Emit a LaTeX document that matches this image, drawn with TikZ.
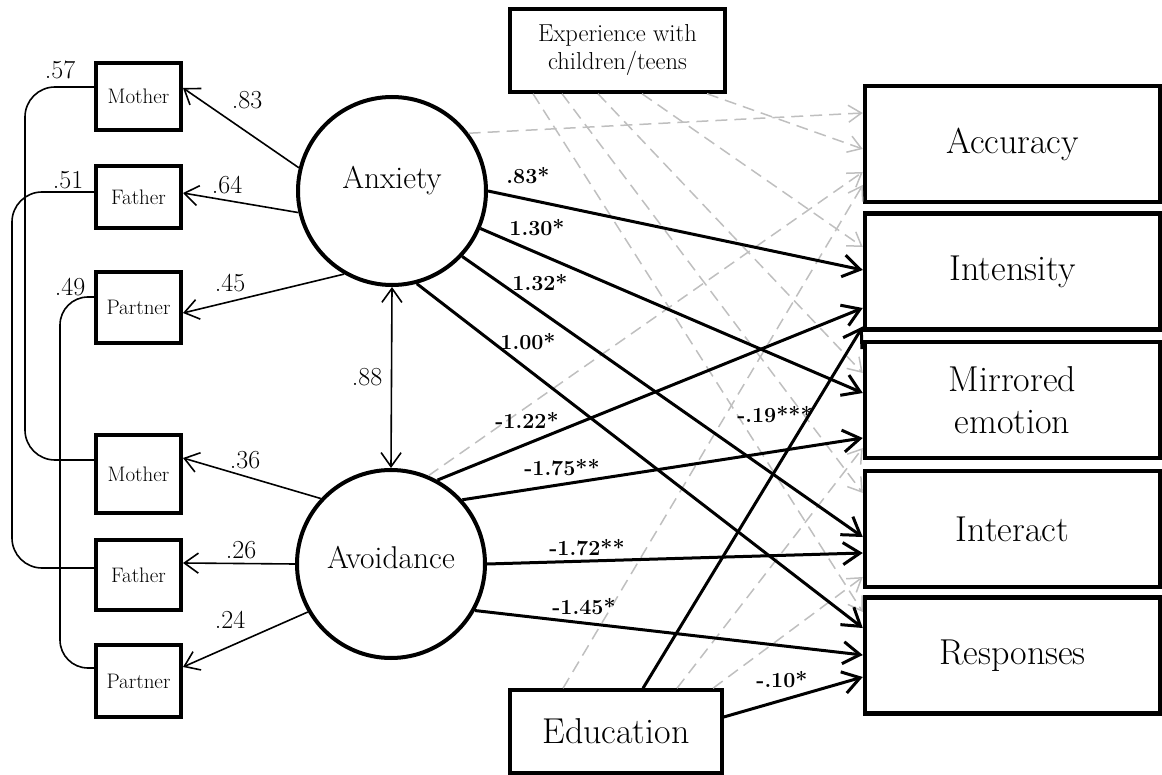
\documentclass[tikz,border=0pt]{standalone}
\usepackage{fontspec}
\usetikzlibrary{arrows.meta,calc}
\tikzset{
  obs/.style={draw, line width=4pt, minimum width=85pt, inner sep=0pt, font=\fontsize{21}{25}\selectfont},
  lat/.style={draw, circle, line width=4pt, minimum size=188pt, inner sep=0pt, font=\fontsize{31.5}{36}\selectfont},
  outc/.style={draw, line width=4.5pt, minimum width=295pt, minimum height=116pt, inner sep=0pt, align=center, font=\fontsize{36}{42}\selectfont},
  cova/.style={draw, line width=3.5pt, inner sep=0pt, align=center},
  loadarr/.style={line width=1.6pt, -{Straight Barb[length=14pt,width=20pt]}},
  dblarr/.style={line width=1.6pt, {Straight Barb[length=14pt,width=20pt]}-{Straight Barb[length=14pt,width=20pt]}},
  covline/.style={line width=1.6pt},
  sigarr/.style={line width=3pt, -{Straight Barb[length=17pt,width=22pt]}},
  nsarr/.style={line width=1.5pt, draw=black!25, dash pattern=on 12pt off 7pt, -{Straight Barb[length=13pt,width=17pt]}},
  coef/.style={font=\fontsize{26}{30}\selectfont, inner sep=0pt},
  bcoef/.style={font=\bfseries\fontsize{21.5}{25}\selectfont, inner sep=0pt},
}
\begin{document}
\begin{tikzpicture}[x=1pt,y=-1pt]
\useasboundingbox (0,0) rectangle (1162,775);

% observed indicators
\node[obs, minimum height=67pt] (mo1) at (138.5,96.5) {Mother};
\node[obs, minimum height=62pt] (fa1) at (138.5,197) {Father};
\node[obs, minimum height=71pt] (pa1) at (138.5,307.5) {Partner};
\node[obs, minimum height=78pt] (mo2) at (138.5,474) {Mother};
\node[obs, minimum height=70pt] (fa2) at (138.5,575) {Father};
\node[obs, minimum height=72pt] (pa2) at (138.5,681) {Partner};

% latent variables
\node[lat, text depth=28pt] (anx) at (392,191) {Anxiety};
\node[lat, text depth=14pt] (avo) at (391,564) {Avoidance};

% covariates
\node[cova, minimum width=215pt, minimum height=83pt, font=\fontsize{24.5}{28}\selectfont] (exp) at (617.5,50.5) {Experience with\\children/teens};
\node[cova, minimum width=212pt, minimum height=83pt, font=\fontsize{36}{40}\selectfont] (edu) at (616,731.5) {Education};

% outcomes
\node[outc] (acc) at (1012.5,144) {Accuracy};
\node[outc] (int) at (1012.5,271.5) {Intensity};
\node[outc] (mir) at (1012.5,400) {Mirrored\\emotion};
\node[outc] (inte) at (1012.5,529) {Interact};
\node[outc] (resp) at (1012.5,655.5) {Responses};

% non-significant paths (dashed, grey)
\draw[nsarr] (anx.37) -- ([yshift=31pt]acc.west);
\draw[nsarr] (avo.67) -- ([yshift=-28pt]acc.west);
\draw[nsarr] ([xshift=89.5pt]exp.south) -- ([yshift=-5pt]acc.west);
\draw[nsarr] ([xshift=24.5pt]exp.south) -- ([yshift=24.5pt]int.west);
\draw[nsarr] ([xshift=-19.5pt]exp.south) -- ([yshift=27pt]mir.west);
\draw[nsarr] ([xshift=-55.5pt]exp.south) -- ([yshift=36pt]inte.west);
\draw[nsarr] ([xshift=-84.5pt]exp.south) -- ([yshift=43.5pt]resp.west);
\draw[nsarr] ([xshift=-53pt]edu.north) -- ([yshift=-41pt]acc.west);
\draw[nsarr] ([xshift=61pt]edu.north) -- ([yshift=-48pt]mir.west);
\draw[nsarr] ([xshift=97pt]edu.north) -- ([yshift=-48pt]inte.west);

% significant paths
\draw[sigarr] (anx.0) -- ([yshift=1.5pt]int.west);
\draw[sigarr] (anx.-23) -- ([yshift=7pt]mir.west);
\draw[sigarr] (anx.-43) -- ([yshift=-8pt]inte.west);
\draw[sigarr] (anx.-75) -- ([yshift=27.5pt]resp.west);
\draw[sigarr] (avo.61) -- ([yshift=-36.5pt]int.west);
\draw[sigarr] (avo.42) -- ([yshift=-38pt]mir.west);
\draw[sigarr] (avo.0) -- ([yshift=-24pt]inte.west);
\draw[sigarr] (avo.-29) -- ([yshift=0.5pt]resp.west);
\draw[sigarr] ([xshift=27pt]edu.north) -- ([yshift=-55pt]int.west);
\draw[sigarr] ([yshift=14.5pt]edu.east) -- ([yshift=-21.5pt]resp.west);

% loadings
\draw[loadarr] (anx.166) -- ([yshift=8.5pt]mo1.east);
\draw[loadarr] (anx.193) -- ([yshift=4pt]fa1.east);
\draw[loadarr] (anx.240) -- ([yshift=-5.5pt]pa1.east);
\draw[loadarr] (avo.137) -- ([yshift=16pt]mo2.east);
\draw[loadarr] (avo.180) -- ([yshift=12pt]fa2.east);
\draw[loadarr] (avo.210) -- ([yshift=14pt]pa2.east);
\draw[dblarr] (anx.south) -- (avo.north);

% residual covariances
\draw[covline, rounded corners=30pt] ([yshift=9.5pt]mo1.west) -- ++(-69,0) |- ([yshift=14pt]mo2.west);
\draw[covline, rounded corners=30pt] ([yshift=5pt]fa1.west) -- ++(-82,0) |- ([yshift=7pt]fa2.west);
\draw[covline, rounded corners=28pt] ([yshift=10.5pt]pa1.west) -- ++(-34,0) |- ([yshift=13pt]pa2.west);

% coefficients
\node[coef] (c57) at (60,70) {.57};
\node[coef] (c51) at (68,180) {.51};
\node[coef] (c49) at (70,287) {.49};
\node[coef] (c83) at (247,100) {.83};
\node[coef] (c64) at (227,185) {.64};
\node[coef] (c45) at (230,283) {.45};
\node[coef] (c88) at (367,377) {.88};
\node[coef] (c36) at (245,460) {.36};
\node[coef] (c26) at (241,550) {.26};
\node[coef] (c24) at (230,620) {.24};

\node[bcoef] (b1) at (528,176) {.83*};
\node[bcoef] (b2) at (537,228) {1.30*};
\node[bcoef] (b3) at (540,283) {1.32*};
\node[bcoef] (b4) at (528,342) {1.00*};
\node[bcoef] (b5) at (527,420) {-1.22*};
\node[bcoef] (b6) at (562,468) {-1.75**};
\node[bcoef] (b7) at (587,548) {-1.72**};
\node[bcoef] (b8) at (584,607) {-1.45*};
\node[bcoef] (b9) at (775,415) {-.19***};
\node[bcoef] (b10) at (782,680) {-.10*};
\end{tikzpicture}
\end{document}
